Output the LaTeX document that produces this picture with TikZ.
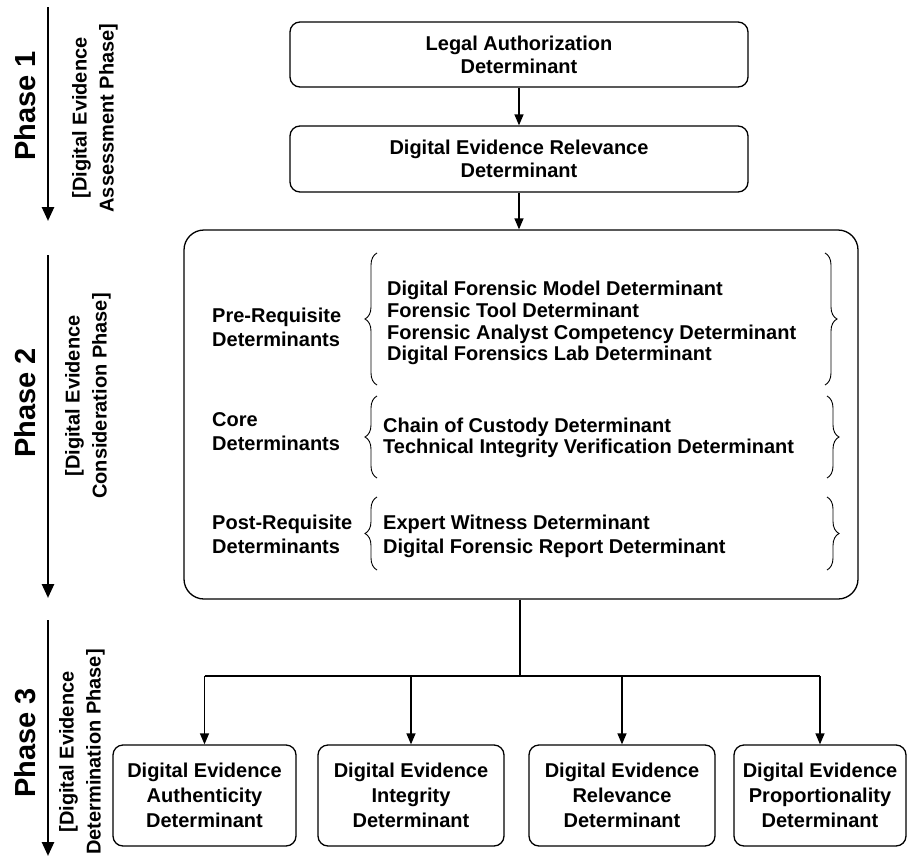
\documentclass[tikz,border=0pt]{standalone}
\usepackage{fontspec}
\setmainfont{Liberation Sans}
\usetikzlibrary{arrows.meta,decorations.pathreplacing,calc}
\begin{document}
\begin{tikzpicture}[x=1pt,y=-1pt,
  every node/.style={font=\bfseries\fontsize{20}{23}\selectfont},
  box/.style={draw, line width=1.3pt, rounded corners=10pt, align=center, inner sep=0pt},
  txt/.style={anchor=north west, align=left, inner sep=0pt},
  arr/.style={line width=1.3pt, -{Triangle[length=11pt,width=9pt]}},
  phasearr/.style={line width=2.6pt, -{Triangle[length=14pt,width=12pt]}},
  br/.style={decorate, decoration={brace, amplitude=12pt}, line width=0.9pt},
  phase/.style={rotate=90, inner sep=0pt, font=\bfseries\fontsize{29}{32}\selectfont},
  sub/.style={rotate=90, inner sep=0pt, align=center, font=\bfseries\fontsize{20}{27}\selectfont},
]
\useasboundingbox (0,0) rectangle (908,857);

% top boxes
\node[box, minimum width=458pt, minimum height=65pt] (b1) at (519,54.5) {Legal Authorization\\Determinant};
\node[box, minimum width=458pt, minimum height=66pt] (b2) at (519,159) {Digital Evidence Relevance\\Determinant};

% big box
\node[draw, line width=1.3pt, rounded corners=20pt, minimum width=674pt, minimum height=369pt, inner sep=0pt] (big) at (521,414.5) {};

\draw[arr] (b1.south) -- (b2.north);
\draw[arr] (b2.south) -- (b2.south |- big.north);

% labels inside big box
\node[txt, font=\bfseries\fontsize{20}{23.5}\selectfont] (l1) at (212,308) {Pre-Requisite\\Determinants};
\node[txt, font=\bfseries\fontsize{20}{24}\selectfont] (l2) at (212,412) {Core\\Determinants};
\node[txt, font=\bfseries\fontsize{20}{24}\selectfont] (l3) at (212,515) {Post-Requisite\\Determinants};

\node[txt, font=\bfseries\fontsize{20}{21.7}\selectfont] (i1) at (387,281) {Digital Forensic Model Determinant\\Forensic Tool Determinant\\Forensic Analyst Competency Determinant\\Digital Forensics Lab Determinant};
\node[txt, font=\bfseries\fontsize{20}{21}\selectfont] (i2) at (383,418) {Chain of Custody Determinant\\Technical Integrity Verification Determinant};
\node[txt, font=\bfseries\fontsize{20}{24}\selectfont] (i3) at (383,515) {Expert Witness Determinant\\Digital Forensic Report Determinant};

% braces
\coordinate (bl1a) at (377,385); \coordinate (bl1b) at (377,253);
\coordinate (br1a) at (825,253); \coordinate (br1b) at (825,385);
\coordinate (bl2a) at (377,478); \coordinate (bl2b) at (377,396);
\coordinate (br2a) at (827,396); \coordinate (br2b) at (827,478);
\coordinate (bl3a) at (377,570); \coordinate (bl3b) at (377,497);
\coordinate (br3a) at (827,497); \coordinate (br3b) at (827,570);
\draw[br] (bl1a) -- (bl1b);
\draw[br] (br1a) -- (br1b);
\draw[br] (bl2a) -- (bl2b);
\draw[br] (br2a) -- (br2b);
\draw[br] (bl3a) -- (bl3b);
\draw[br] (br3a) -- (br3b);

% bottom boxes
\node[box, minimum width=183pt, minimum height=101pt, font=\bfseries\fontsize{20}{25}\selectfont] (d1) at (204.5,795.5) {Digital Evidence\\Authenticity\\Determinant};
\node[box, minimum width=186pt, minimum height=101pt, font=\bfseries\fontsize{20}{25}\selectfont] (d2) at (411,795.5) {Digital Evidence\\Integrity\\Determinant};
\node[box, minimum width=186pt, minimum height=101pt, font=\bfseries\fontsize{20}{25}\selectfont] (d3) at (622,795.5) {Digital Evidence\\Relevance\\Determinant};
\node[box, minimum width=172pt, minimum height=101pt, font=\bfseries\fontsize{20}{25}\selectfont] (d4) at (820,795.5) {Digital Evidence\\Proportionality\\Determinant};

% tree connector
\coordinate (j) at (520,676);
\draw[line width=2.4pt] (big.south -| j) -- (j);
\draw[line width=1.8pt] (d1.north |- j) -- (d4.north |- j);
\draw[arr] (d1.north |- j) -- (d1.north);
\draw[arr] (d2.north |- j) -- (d2.north);
\draw[arr] (d3.north |- j) -- (d3.north);
\draw[arr] (d4.north |- j) -- (d4.north);

% phase arrows
\coordinate (p1s) at (48,7);   \coordinate (p1e) at (48,221);
\coordinate (p2s) at (48,255); \coordinate (p2e) at (48,598);
\coordinate (p3s) at (48,620); \coordinate (p3e) at (48,856);
\draw[phasearr] (p1s) -- (p1e);
\draw[phasearr] (p2s) -- (p2e);
\draw[phasearr] (p3s) -- (p3e);

% phase labels
\node[phase] (ph1) at (25,106) {Phase 1};
\node[phase] (ph2) at (25,403) {Phase 2};
\node[phase] (ph3) at (25,743) {Phase 3};
\node[sub] (s1) at (95,118) {[Digital Evidence\\Assessment Phase]};
\node[sub] (s2) at (88,396) {[Digital Evidence\\Consideration Phase]};
\node[sub] (s3) at (82,752) {[Digital Evidence\\Determination Phase]};
\end{tikzpicture}
\end{document}
